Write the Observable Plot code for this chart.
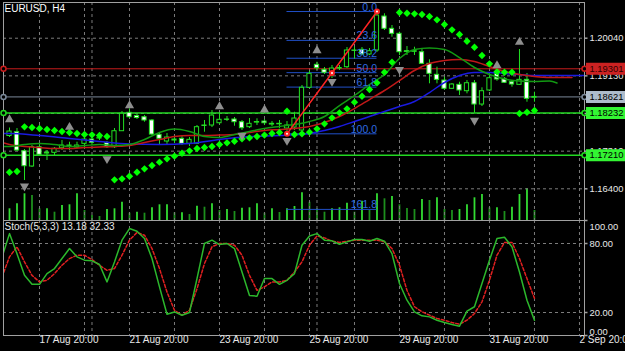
<!DOCTYPE html>
<html><head><meta charset="utf-8">
<script src="https://cdn.jsdelivr.net/npm/d3@7"></script>
<script src="https://cdn.jsdelivr.net/npm/@observablehq/plot@0.6"></script>
<style>
html,body{margin:0;padding:0;background:#000;}
#chart{position:relative;width:625px;height:351px;background:#000;overflow:hidden;}
#chart svg{position:absolute;left:0;top:0;}
</style></head><body><div id="chart"></div>
<script>
// ---------- DATA ----------
const symbolTitle = "EURUSD, H4";
const barOpen = [
1.17676,1.17768,1.17309,1.16939,1.17405,1.17253,1.17270,1.17381,1.17446,1.17398,
1.17487,1.17591,1.17616,1.17502,1.17405,1.17792,1.18237,1.18159,1.18130,1.18051,
1.17705,1.17543,1.17567,1.17608,1.17487,1.17487,1.17930,1.17930,1.17985,1.18075,
1.18075,1.18010,1.17889,1.18010,1.18026,1.17971,1.17966,1.17857,1.17881,1.17809,
1.18841,1.19397,1.19276,1.19211,1.19315,1.19339,1.19743,1.19759,1.19646,1.19743,
1.20564,1.20267,1.20146,1.19726,1.19720,1.19701,1.19421,1.19155,1.19017,1.18817,
1.18913,1.18759,1.18952,1.18437,1.18776,1.19187,1.19058,1.18976,1.18913,1.19034,
1.18600];
const barHigh = [
1.17869,1.17857,1.17350,1.17446,1.17470,1.17326,1.17398,1.17567,1.17526,1.17526,
1.17688,1.17647,1.17688,1.17543,1.17857,1.18268,1.18333,1.18196,1.18171,1.18075,
1.17736,1.17736,1.17664,1.17664,1.17640,1.17930,1.18051,1.18292,1.18227,1.18147,
1.18123,1.18051,1.18099,1.18092,1.18075,1.18026,1.18051,1.18026,1.18251,1.18897,
1.19235,1.19460,1.19332,1.19380,1.19380,1.19815,1.19822,1.19815,1.19791,1.20685,
1.20630,1.20347,1.20185,1.19839,1.19822,1.19791,1.19518,1.19339,1.19097,1.18945,
1.18976,1.19017,1.19017,1.18841,1.19194,1.19235,1.19090,1.19000,1.19767,1.19187,
1.18735];
const barLow = [
1.17640,1.17301,1.16600,1.16915,1.17205,1.17084,1.17205,1.17326,1.17326,1.17367,
1.17367,1.17446,1.17567,1.17374,1.17374,1.17785,1.18099,1.18075,1.18010,1.17688,
1.17446,1.17470,1.17495,1.17446,1.17422,1.17470,1.17768,1.17881,1.17954,1.18026,
1.17913,1.17809,1.17857,1.17930,1.17930,1.17906,1.17857,1.17729,1.17809,1.17785,
1.18824,1.19259,1.19162,1.19066,1.19259,1.19307,1.19542,1.19622,1.19622,1.19694,
1.20226,1.20064,1.19622,1.19622,1.19622,1.19404,1.18938,1.18938,1.18776,1.18800,
1.18655,1.18696,1.18227,1.18389,1.18752,1.19000,1.18945,1.18856,1.18897,1.18493,
1.18493];
const barClose = [
1.17785,1.17326,1.16946,1.17405,1.17222,1.17277,1.17367,1.17446,1.17439,1.17446,
1.17591,1.17512,1.17623,1.17405,1.17792,1.18213,1.18130,1.18111,1.18051,1.17711,
1.17608,1.17640,1.17591,1.17487,1.17584,1.17889,1.17920,1.18171,1.18068,1.18068,
1.18010,1.17865,1.17971,1.18014,1.17985,1.17965,1.17971,1.17930,1.18099,1.18841,
1.19179,1.19315,1.19204,1.19307,1.19320,1.19743,1.19735,1.19646,1.19726,1.20588,
1.20267,1.20146,1.19701,1.19720,1.19726,1.19421,1.19179,1.19034,1.18817,1.18921,
1.18776,1.18952,1.18437,1.18759,1.19073,1.19042,1.18962,1.18921,1.19034,1.18575,
1.18621];
const barVolume = [
1170,1670,2670,2500,1170,1170,830,1500,1570,2670,
1000,500,400,1100,1170,1830,730,830,730,1270,
1570,1570,770,770,600,1430,1330,1670,1000,1100,
900,1230,1270,1670,730,1170,800,1170,1400,2770,
1830,1170,830,1170,1270,1730,830,1930,1000,2670,
2170,2400,1570,1200,1100,2100,2000,2270,1100,1000,
1100,1570,2270,2600,1270,1270,900,1330,2600,3170,
1000];
// Parabolic SAR, one per bar
const sarValues = [
1.16801,1.16818,1.17898,1.17881,1.17857,1.17833,1.17809,1.17785,1.17761,1.17736,
1.17712,1.17705,1.17688,1.17664,1.16617,1.16641,1.16704,1.16801,1.16883,1.16963,
1.17043,1.17125,1.17188,1.17260,1.17318,1.17374,1.17398,1.17422,1.17470,1.17512,
1.17550,1.17608,1.17633,1.17664,1.17699,1.17736,1.17761,1.18275,1.17712,1.17729,
1.17768,1.17850,1.17971,1.18116,1.18237,1.18333,1.18493,1.18638,1.18800,1.18962,
1.19218,1.19460,1.20661,1.20644,1.20630,1.20613,1.20564,1.20485,1.20371,1.20243,
1.20129,1.19967,1.19822,1.19622,1.19421,1.19228,1.19218,1.19218,1.18220,1.18251,
1.18292];
// Alligator lines (bar index, value)
const lipsIdx = [-1,0,2,4,6,8,10,12,14,16,18,20,22,24,26,28,30,32,34,36,38,40,42,44,46,48,50,52,54,56,58,60,62,64,66,68,70,72,73];
const lipsVal = [1.17422,1.17422,1.17470,1.17495,1.17470,1.17422,1.17446,1.17470,1.17446,1.17470,1.17591,1.17761,1.17844,1.17785,1.17664,1.17640,1.17712,1.17785,1.17857,1.17906,1.17954,1.18026,1.18147,1.18413,1.18655,1.18921,1.19162,1.19549,1.19767,1.19803,1.19767,1.19573,1.19332,1.19162,1.19054,1.19005,1.18993,1.19005,1.18957];
const teethIdx = [-1,0,2,4,6,8,10,12,14,16,18,20,22,24,26,28,30,32,34,36,38,40,42,44,46,48,50,52,54,56,58,60,62,64,66,68,70,72,74,75];
const teethVal = [1.17519,1.17470,1.17422,1.17398,1.17374,1.17374,1.17398,1.17410,1.17422,1.17446,1.17519,1.17591,1.17664,1.17688,1.17688,1.17699,1.17712,1.17761,1.17809,1.17833,1.17857,1.17906,1.18002,1.18147,1.18341,1.18558,1.18776,1.19017,1.19259,1.19428,1.19501,1.19525,1.19477,1.19356,1.19235,1.19162,1.19114,1.19090,1.19090,1.19090];
const jawIdx = [-1,0,4,8,12,16,20,24,28,32,36,40,42,44,46,48,50,52,54,56,58,60,62,64,66,68,70,72,74,78];
const jawVal = [1.17736,1.17736,1.17688,1.17616,1.17543,1.17482,1.17470,1.17495,1.17591,1.17664,1.17688,1.17736,1.17809,1.17906,1.18026,1.18147,1.18268,1.18389,1.18510,1.18727,1.18969,1.19138,1.19211,1.19211,1.19187,1.19162,1.19138,1.19138,1.19138,1.19138];
// Fractals
const fractalUpIdx = [0,8,16,28,34,41,65,68];
const fractalUpVal = [1.18075,1.17889,1.18413,1.18389,1.18309,1.19743,1.19380,1.19943];
const fractalDnIdx = [2,13,31,37,43,52,62];
const fractalDnVal = [1.16463,1.17125,1.17688,1.17567,1.18993,1.19283,1.18051];
// ZigZag + Fibonacci
const zigzagIdx = [37,43,49];
const zigzagVal = [1.17729,1.19200,1.20685];
const fibLevels = [0,23.6,38.2,50,61.8,100,161.8];
// Horizontal lines
const hLinePrices = [1.19301,1.18621,1.18232,1.17210];
const hLineNames = ["resistance","bid","support1","support2"];
// Stochastic (bar -1 .. 70)
const stochK = [68,88.6,71,52.3,44.5,44.5,53.8,58.2,66.9,75.6,68.4,65.5,64.9,61.7,46.6,64,82.9,93,90.7,84.3,66.9,42.3,18.5,20.5,17.6,20,49.5,80,82.9,79.1,80,75.6,55.2,34.8,34.2,49.5,49.5,44.5,48,53.8,78.5,86.6,88.6,82.9,82.3,79.4,81.4,83.5,83.5,82,84.3,82,71.2,45.2,30.7,20.6,17.1,16.2,13.3,11.3,9.6,8.1,21.2,25,45.2,65.5,84.3,85.5,77.1,55.2,30.7,13.18];
const stochD = [50.9,68.4,77.1,64,52.3,46.6,48,53.8,61.1,66.9,69.8,69.8,66,61.1,56.7,58.2,69.8,82.9,89.6,87.2,75.6,58.2,37.8,21.9,17.6,21.9,40.7,62.6,77.1,80,80,78.5,69.8,52.3,39.3,42.3,46.6,46.6,48,55.2,64,78.5,86.6,84.9,82,80.9,82,82.9,82.9,82.9,82.9,81.4,75.6,61.1,39.3,25,20.6,17.7,14.8,13.3,11.3,9.8,13.3,19.1,29.3,48.1,69.8,80.9,80.9,66.9,49.5,32.33];
const stochFirstIdx = -1;
const stochLevels = [80,20];
const stochMidLabels = [80,20];
const stochTopLabel = [100];
const stochBottomLabel = [0];
// Axes
const priceTicks = [1.20040,1.19130,1.18220,1.17310,1.16400];
const timeTickIdx = [4,16,28,40,52,64,76];
const timeTickLabels = ["17 Aug 20:00","21 Aug 20:00","23 Aug 20:00","25 Aug 20:00","29 Aug 20:00","31 Aug 20:00","2 Sep 20:00"];
const gridIdx = [4,10,16,22,28,34,40,46,52,58,64,70,76];
const separatorIdx = [11,41];

// ---------- LAYOUT / STYLE ----------
const W = 625, H = 351;
const xDomain = [-0.8, 76.67];
const priceDomain = [1.15634, 1.20903];
const volDomain = [0, 21800];
const mL = 3, mR = 41, mainTop = 2, mainBottom = 220, stochBottom = 335;
const FONT = "'Liberation Sans', Arial, sans-serif";
const GRID = "#7c7c7c", FRAME = "#a0a0a0", TXT = "#e8e8e8";
const CANDLE = "#22e022";
const AXFS = 9.4;
const hLineStyle = {
  resistance: {stroke: "#c81c1c", width: 1, bg: "#cc2222", fg: "#300000"},
  bid: {stroke: "#7a8899", width: 1, bg: "#aebccb", fg: "#000"},
  support1: {stroke: "#22d822", width: 1.6, bg: "#33f533", fg: "#000"},
  support2: {stroke: "#22d822", width: 1.6, bg: "#33f533", fg: "#000"}
};
const style = {background: "transparent", color: TXT, fontFamily: FONT, fontSize: "10px", overflow: "visible"};

const candles = barOpen.map((o, i) => ({i, open: o, high: barHigh[i], low: barLow[i], close: barClose[i]}));
const vols = barVolume.map((v, i) => ({i, v, up: i === 0 || v >= barVolume[i - 1]}));
const sar = sarValues.map((v, i) => ({i, v}));
const lips = lipsIdx.map((i, k) => ({i, v: lipsVal[k]}));
const teeth = teethIdx.map((i, k) => ({i, v: teethVal[k]}));
const jaw = jawIdx.map((i, k) => ({i, v: jawVal[k]}));
const fUp = fractalUpIdx.map((i, k) => ({i, v: fractalUpVal[k]}));
const fDn = fractalDnIdx.map((i, k) => ({i, v: fractalDnVal[k]}));
const zz = zigzagIdx.map((i, k) => ({i, v: zigzagVal[k]}));
const fibHi = zigzagVal[zigzagVal.length - 1], fibLo = zigzagVal[0];
const fibData = fibLevels.map(l => ({l, price: fibHi - (fibHi - fibLo) * l / 100}));
const hLines = hLinePrices.map((p, k) => ({price: p, ...hLineStyle[hLineNames[k]]}));
const stoch = stochK.map((k, j) => ({i: j + stochFirstIdx, k, d: stochD[j]}));
const allGridX = gridIdx.concat(separatorIdx);

const boxSymbol = {draw(ctx) { ctx.rect(1.5, -6, 39.5, 12); }};
const tickSymbol = {draw(ctx) { ctx.moveTo(0, 0); ctx.lineTo(3, 0); }};
const handleSymbol = {draw(ctx) { ctx.arc(0, 0, 2.5, 0, 2 * Math.PI); }};

const chart = document.getElementById("chart");

// Volume layer
const volPlot = Plot.plot({
  width: W, height: H, marginLeft: mL, marginRight: mR, marginTop: mainTop, marginBottom: H - mainBottom,
  style,
  x: {domain: xDomain, axis: null},
  y: {domain: volDomain, axis: null},
  marks: [
    Plot.ruleX(vols, {x: "i", y1: 0, y2: "v", stroke: d => d.up ? "#33dd33" : "#1d8f1d", strokeWidth: 1.8})
  ]
});

// Main price layer
const mainPlot = Plot.plot({
  width: W, height: H, marginLeft: mL, marginRight: mR, marginTop: mainTop, marginBottom: H - mainBottom,
  style,
  x: {domain: xDomain, axis: null},
  y: {domain: priceDomain, axis: null},
  marks: [
    Plot.ruleY(priceTicks, {stroke: GRID, strokeDasharray: "3,3"}),
    Plot.ruleX(allGridX, {stroke: GRID, strokeDasharray: "3,3"}),
    Plot.ruleY(hLines, {y: "price", stroke: "stroke", strokeWidth: "width"}),
    Plot.ruleY(fibData, {y: "price", x1: () => zigzagIdx[0], x2: () => zigzagIdx[zigzagIdx.length - 1], stroke: "#2050c8"}),
    Plot.ruleX(candles, {x: "i", y1: "low", y2: "high", stroke: CANDLE}),
    Plot.rect(candles, {x1: d => d.i - 0.28, x2: d => d.i + 0.28, y1: "open", y2: "close",
      fill: d => d.close >= d.open ? "#000" : "#fff", stroke: CANDLE}),
    Plot.ruleY(candles.filter(d => Math.abs(d.close - d.open) < 0.00006), {y: "close", x1: d => d.i - 0.35, x2: d => d.i + 0.35, stroke: CANDLE}),
    Plot.line(jaw, {x: "i", y: "v", stroke: "#1a1ae0", curve: "monotone-x", clip: true}),
    Plot.line(teeth, {x: "i", y: "v", stroke: "#c01818", curve: "monotone-x", clip: true}),
    Plot.line(lips, {x: "i", y: "v", stroke: "#129a12", curve: "monotone-x", clip: true}),
    Plot.text(fibData, {x: () => zigzagIdx[zigzagIdx.length - 1], y: "price", text: d => d.l.toFixed(1),
      textAnchor: "end", lineAnchor: "bottom", dy: -1, fill: "#2f6be0", fontSize: 10.5}),
    Plot.line(zz, {x: "i", y: "v", stroke: "#ff2424"}),
    Plot.dot(zz, {x: "i", y: "v", r: 3, fill: "#ff2424"}),
    Plot.dot(zz, {x: "i", y: "v", r: 1, fill: "#fff"}),
    Plot.dot(sar, {x: "i", y: "v", symbol: "diamond2", r: 3.3, fill: "#00ff00", clip: true}),
    Plot.dot(fUp, {x: "i", y: "v", symbol: "triangle", r: 3.4, fill: "#8e8e8e"}),
    Plot.dot(fDn, {x: "i", y: "v", symbol: "triangle", rotate: 180, r: 3.4, fill: "#8e8e8e"}),
    Plot.frame({stroke: FRAME}),
    Plot.dot(hLines, {y: "price", frameAnchor: "left", symbol: handleSymbol, r: 1, fill: "#000", stroke: "stroke"}),
    Plot.dot(hLines, {y: "price", frameAnchor: "right", symbol: handleSymbol, r: 1, fill: "#000", stroke: "stroke"}),
    Plot.dot(priceTicks, {y: d => d, frameAnchor: "right", symbol: tickSymbol, r: 1, stroke: FRAME, fill: "none"}),
    Plot.text(priceTicks, {y: d => d, text: d => d.toFixed(5), frameAnchor: "right", textAnchor: "start", dx: 5, fill: TXT, fontSize: AXFS}),
    Plot.dot(hLines, {y: "price", frameAnchor: "right", symbol: boxSymbol, r: 1, fill: "bg", stroke: "none"}),
    Plot.text(hLines, {y: "price", text: d => d.price.toFixed(5), frameAnchor: "right", textAnchor: "start", dx: 5, fill: "fg", fontSize: AXFS}),
    Plot.text([symbolTitle], {text: d => d, frameAnchor: "top-left", textAnchor: "start", lineAnchor: "top", dx: 1, dy: 2, fill: "#fff"})
  ]
});

// Stochastic layer
const stochPlot = Plot.plot({
  width: W, height: H, marginLeft: mL, marginRight: mR, marginTop: mainBottom, marginBottom: H - stochBottom,
  style,
  x: {domain: xDomain, axis: null},
  y: {domain: [0, 100], axis: null},
  marks: [
    Plot.ruleY(stochLevels, {stroke: GRID, strokeDasharray: "3,3"}),
    Plot.ruleX(allGridX, {stroke: GRID, strokeDasharray: "3,3"}),
    Plot.line(stoch, {x: "i", y: "d", stroke: "#e02020", strokeDasharray: "3,2", clip: true}),
    Plot.line(stoch, {x: "i", y: "k", stroke: "#2cb82c", clip: true}),
    Plot.frame({stroke: FRAME}),
    Plot.text([`Stoch(5,3,3) ${stochK[stochK.length - 1].toFixed(2)} ${stochD[stochD.length - 1].toFixed(2)}`],
      {text: d => d, frameAnchor: "top-left", textAnchor: "start", lineAnchor: "top", dx: 1, dy: 2, fill: TXT}),
    Plot.dot(stochMidLabels.concat(stochTopLabel, stochBottomLabel), {y: d => d, frameAnchor: "right", symbol: tickSymbol, r: 1, stroke: FRAME, fill: "none"}),
    Plot.text(stochMidLabels, {y: d => d, text: d => d.toFixed(2), frameAnchor: "right", textAnchor: "start", dx: 5, fill: TXT, fontSize: AXFS}),
    Plot.text(stochTopLabel, {y: d => d, text: d => d.toFixed(2), frameAnchor: "right", textAnchor: "start", dx: 5, dy: 6, fill: TXT, fontSize: AXFS}),
    Plot.text(stochBottomLabel, {y: d => d, text: d => d.toFixed(2), frameAnchor: "right", textAnchor: "start", dx: 5, dy: -4, fill: TXT, fontSize: AXFS}),
    Plot.text(timeTickIdx, {x: d => d, text: (d, k) => timeTickLabels[k], frameAnchor: "bottom", textAnchor: "start", dy: 7, fill: TXT})
  ]
});

chart.append(volPlot, mainPlot, stochPlot);
</script>
</body></html>
